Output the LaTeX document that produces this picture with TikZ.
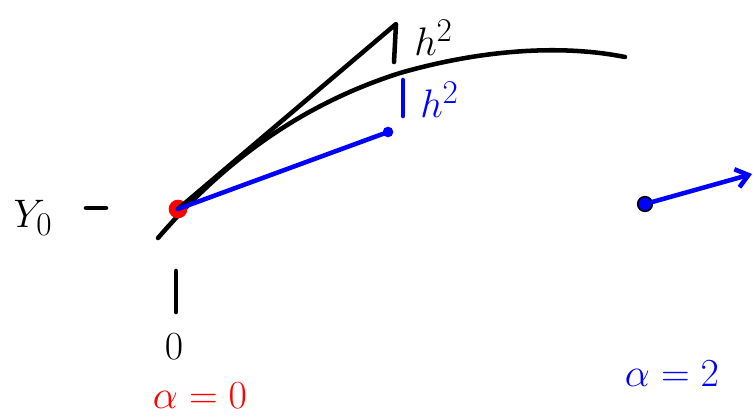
\documentclass[tikz,border=0pt]{standalone}
\usepackage{amsmath}
\usepackage{xcolor}
\definecolor{penblue}{RGB}{0,0,255}
\definecolor{penred}{RGB}{255,0,0}
\usetikzlibrary{arrows.meta, positioning}
\newcommand{\sk}[1]{\scalebox{1.2}{#1}}
\tikzset{
  pen/.style={line width=3.4pt, line cap=round, line join=round},
  dotmark/.style={circle, inner sep=0pt, minimum size=#1},
  lbl/.style={font=\Huge, inner sep=0pt},
}
\begin{document}
\begin{tikzpicture}[x=0.75pt, y=-0.75pt]
  \useasboundingbox (0,0) rectangle (755,419);
  % the curve and its tangent step
  \draw[pen] (158,238) .. controls (215,172) and (290,108) .. (400,73)
    .. controls (480,50) and (560,44) .. (625,57);
  \node[dotmark=14pt, fill=penred] (r0) at (178,209) {};
  \coordinate (tip) at (396,24);
  \coordinate (tipdown) at (394,62);
  \draw[pen] (r0.center) -- (tip) -- (tipdown);
  \node[lbl, anchor=west] (hblack) at (414,38) {\sk{$h^2$}};
  % blue step
  \node[dotmark=8pt, fill=penblue] (b1) at (388,132) {};
  \draw[pen, penblue] (r0.center) -- (b1);
  \coordinate (bt) at (403,80);
  \coordinate (bb) at (403,116);
  \draw[pen, penblue] (bt) -- (bb);
  \node[lbl, anchor=west, penblue] (hblue) at (420,100) {\sk{$h^2$}};
  % axis marks
  \node[lbl] (y0) at (33,218) {\sk{$Y_0$}};
  \coordinate (dl) at (86,208);
  \coordinate (dr) at (106,208);
  \draw[pen] (dl) -- (dr);
  \coordinate (tt) at (176,271);
  \coordinate (tb) at (176,312);
  \draw[pen] (tt) -- (tb);
  \node[lbl] (zero) at (174,347) {\sk{$0$}};
  \node[lbl, penred] (a0) at (200,396) {\sk{$\alpha=0$}};
  % right part
  \node[dotmark=11pt, fill=penblue, draw=black, line width=1.2pt] (b2) at (645,204) {};
  \coordinate (bend) at (752,174);
  \draw[pen, penblue, -{Straight Barb[length=9pt, width=14pt]}] (b2) -- (bend);
  \node[lbl, penblue] (a2) at (672,374) {\sk{$\alpha=2$}};
\end{tikzpicture}
\end{document}
